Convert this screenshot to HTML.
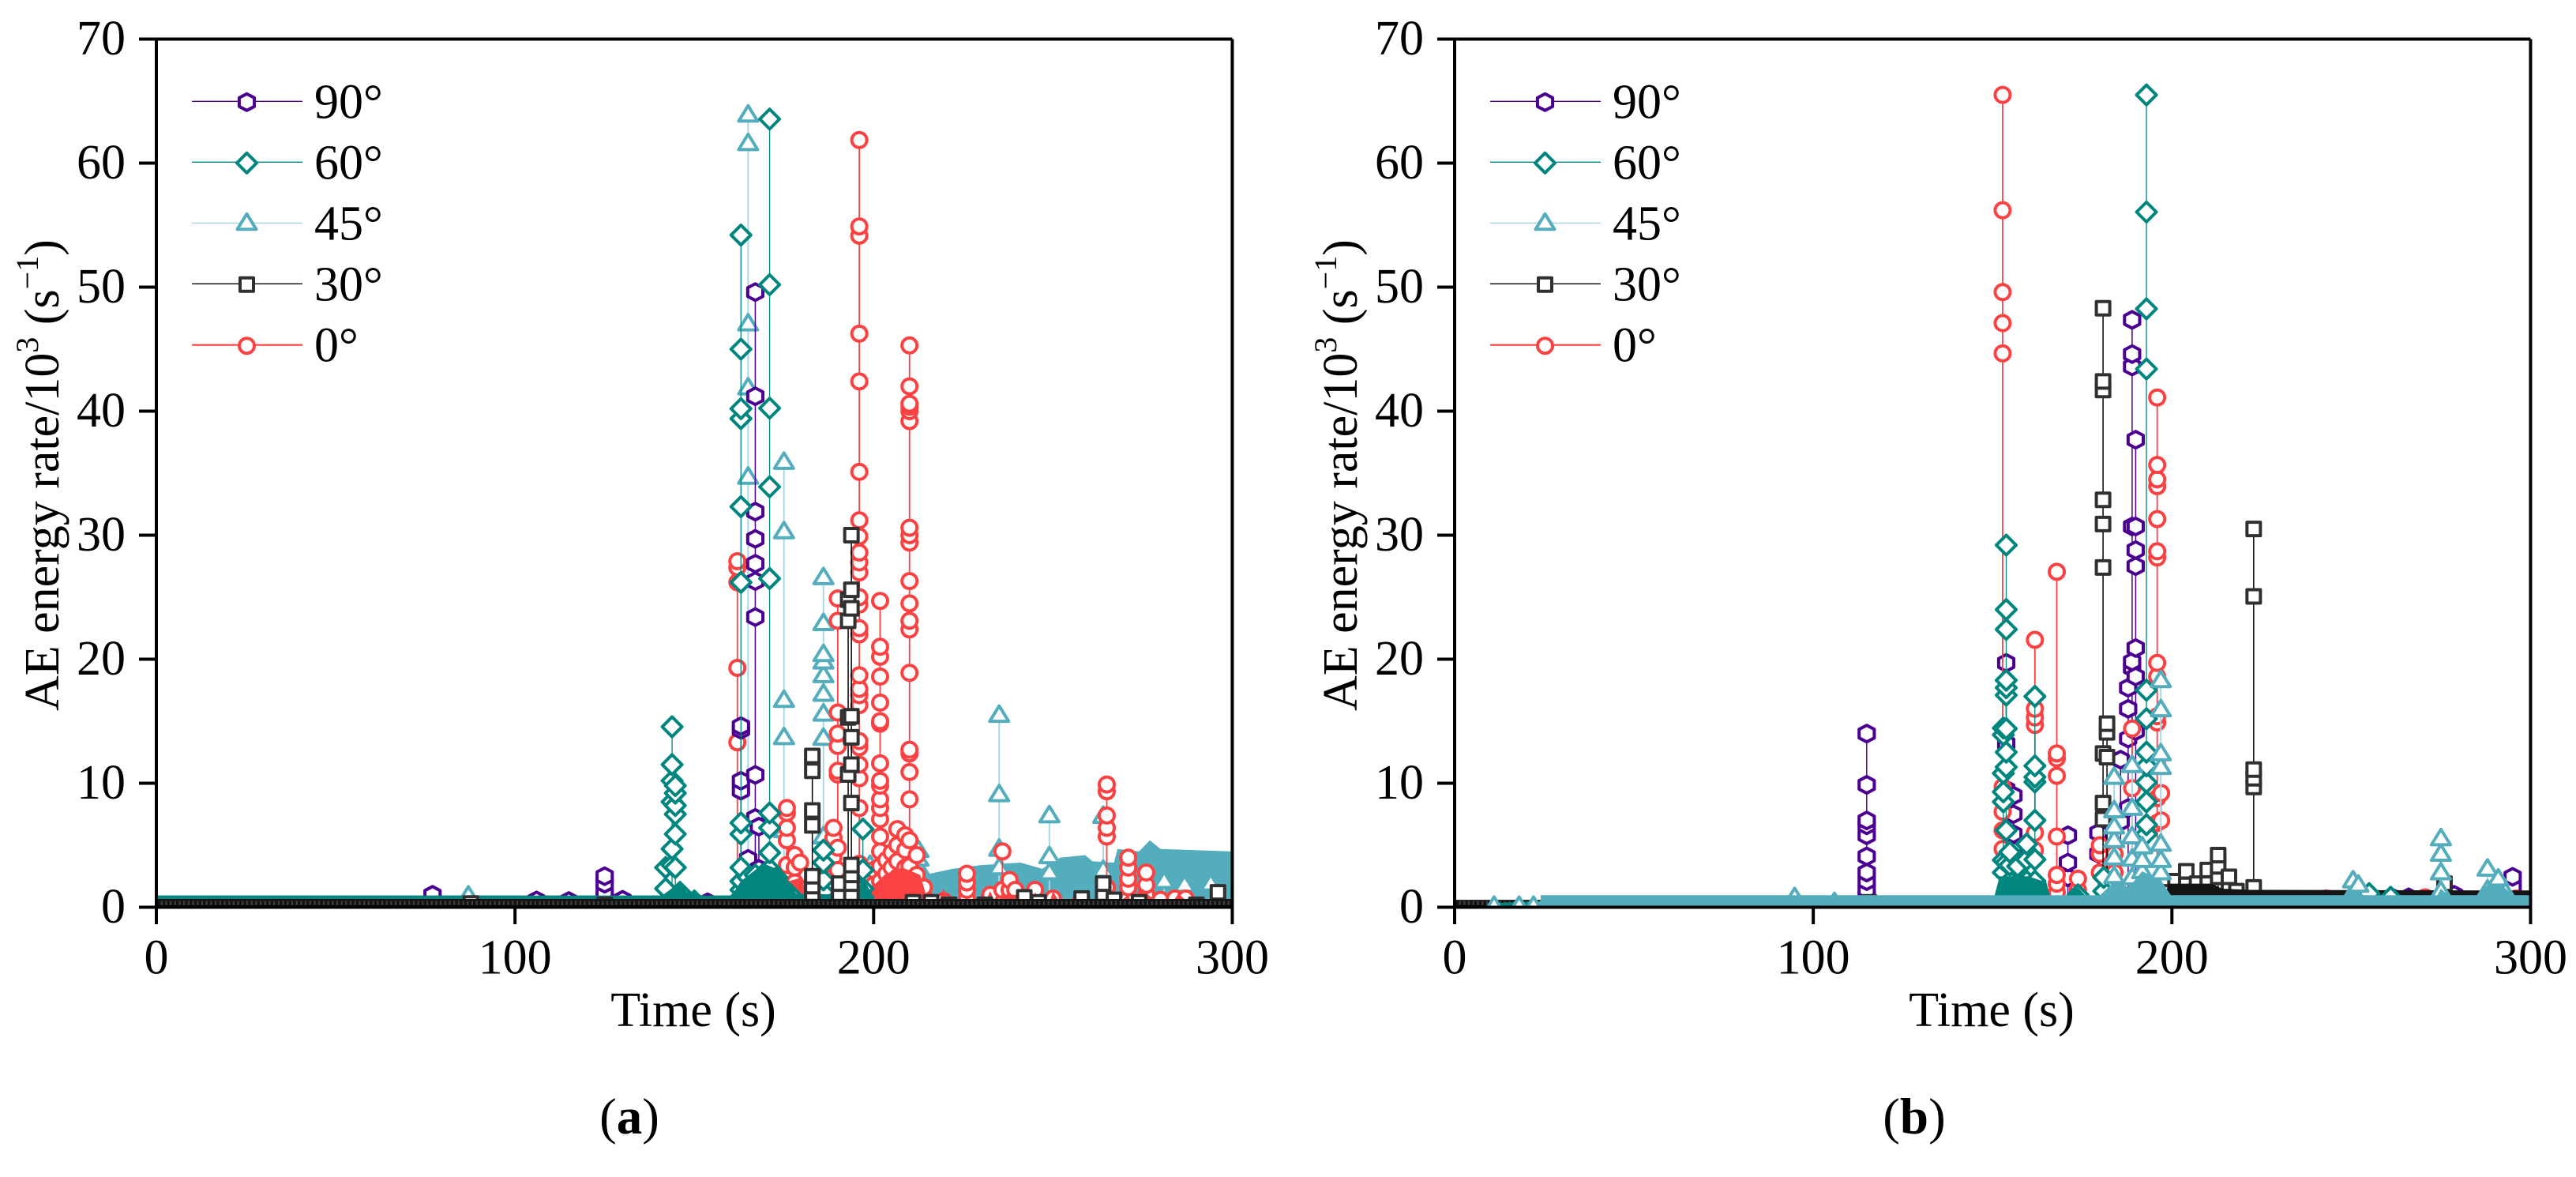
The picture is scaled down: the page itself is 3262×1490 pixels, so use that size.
<!DOCTYPE html>
<html lang="en">
<head>
<meta charset="utf-8">
<title>AE energy rate versus time, panels a and b</title>
<style>
html,body{margin:0;padding:0;background:#fff;}
svg{display:block;}
text{font-family:"Liberation Serif","Times New Roman",serif;fill:#000;}
</style>
</head>
<body>
<svg id="figure" xmlns="http://www.w3.org/2000/svg" width="3262" height="1490" viewBox="0 0 3262 1490"></svg>
<script>
/* ---------- shared tick labels ---------- */
const xTickValues = [0, 100, 200, 300];
const yTickValues = [0, 10, 20, 30, 40, 50, 60, 70];
const legendLabels = ['90°', '60°', '45°', '30°', '0°'];

/* ---------- panel (a): times and the values recorded at each time ---------- */
const a90Times = [77, 106, 115, 125, 130, 153.7, 163, 165, 167, 168];
const a90Values = [[1.0, 0.6], [0.55], [0.5], [2.5, 1.9, 1.1, 0.6], [0.6], [0.4], [14.6, 14.3, 10.2, 9.4], [3.9, 2.5], [49.6, 41.2, 31.9, 29.7, 27.7, 26.3, 23.4, 10.67, 7.2], [6.5, 3.1]];

const a60Times = [142, 143.8, 144.7, 146, 150, 163, 165, 167, 169, 171, 173, 176.5, 186, 197];
const a60Values = [[3.2, 1.5], [14.55, 11.5, 10.2, 8.5, 4.7, 3.4], [9.8, 9.2, 8.2, 7.5, 5.9, 3.2], [1.2, 0.8], [0.5], [54.2, 45, 40.2, 39.4, 32.3, 26.2, 6.8, 5.9, 3.2, 2.1, 1.4], [2.4, 1.5, 1], [2.6, 1.8, 1.1], [2.6, 1.5, 0.9], [63.55, 50.2, 40.24, 33.9, 26.5, 7.6, 6.4, 4.4, 3.1, 2, 1.2], [2.4, 1.3], [1.1, 0.7], [4.6, 3.6, 2.2, 1.2], [6.3, 3, 1.5, 0.8]];

const a45Times = [87, 165, 175, 186, 199, 212.5, 235, 249, 264, 281, 286.7, 294];
const a45Values = [[0.93], [63.9, 61.6, 47.06, 41.9, 34.7, 6.5, 3.5, 1.8], [35.9, 30.3, 16.7, 13.7, 6.2], [26.6, 22.9, 20.4, 19.8, 18.7, 17.2, 15.6, 13.65, 5.7], [3.4], [4.6, 3.9, 3.2], [15.5, 9.1, 4.7, 3.2], [7.4, 4.1, 2.8], [7.35, 3], [2.1], [1.8], [1.9]];

const a30Times = [87.7, 125, 182.9, 190.4, 192.9, 193.8, 211, 216, 221, 231, 242, 246, 258, 264, 267, 274, 290, 296];
const a30Values = [[0.3], [0.2], [12.2, 11, 7.8, 6.6, 2.5, 1.7, 1.1], [1.9, 1.1], [24.8, 23.1, 15.3, 10.7], [30, 25.6, 24.1, 15.4, 13.7, 11.5, 8.4, 3.4, 2.6, 1.9, 1.1], [0.4], [0.4], [0.2], [0.2], [0.8, 0.4], [0.4], [0.7, 0.3], [1.9, 1.1], [0.6], [0.4], [0.2], [1.2]];

const a0Times = [162, 175.8, 178, 179.5, 188.8, 190, 196, 198, 200, 201.8, 203.5, 205, 206.6, 208.8, 210, 212, 214, 219.5, 226, 232.5, 235.9, 237.9, 239.5, 245, 250, 257.7, 265, 268, 271, 276, 280, 284, 287];
const a0Values = [[27.9, 27.4, 26.2, 19.3, 13.3], [8, 7.6, 6.4, 5.4, 3.4, 2.3], [4.2, 3.2, 2], [3.6, 1.5], [6.4, 5.6, 4, 2.5], [24.9, 23.1, 15.7, 14, 13, 11, 10.7, 4.8, 3], [61.86, 54.9, 54.15, 46.25, 42.4, 35.1, 31.2, 29.9, 28.6, 27.8, 27, 25, 24.4, 22.5, 22, 18.7, 17.6, 17.1, 16.3, 13.4, 12.9, 11.5, 10.4, 8, 3.5], [2.4, 1.2, 0.6], [3, 1.8, 0.8], [24.7, 21, 20.2, 18.6, 16.5, 15, 14.8, 11.6, 10.2, 9.8, 8.7, 8, 7.1, 5.7, 4.5, 3.3, 2.1, 1.1], [3.8, 2.7, 1.6, 0.7], [4.4, 3.2, 1.9, 0.9], [6.3, 5, 3.7, 2.4, 1.2], [5.8, 4.6, 3.2, 2, 1], [45.3, 42, 40.6, 40.35, 40, 39.2, 30.6, 30, 29.4, 26.3, 24.5, 23.1, 22.4, 18.9, 12.7, 12.4, 10.9, 8.7, 5.4, 3.3, 1.9], [4.2, 2.6, 1.4], [1.6, 0.9], [0.5], [2.7, 2, 1.4, 0.7], [1], [4.5, 1.4], [2.2, 1.4, 0.7], [1.4, 0.8], [1.4, 0.7], [0.7], [0.4], [9.9, 9.35, 7.4, 6.4, 5.7, 1.6], [0.5], [4, 3.2, 2.3, 1.6, 0.7], [2.8, 1.8, 1], [0.6], [0.7], [0.7]];

/* density envelopes where markers merge into a solid band (top of the band) */
const a45BandTimes = [0, 160, 205, 212, 214, 222, 230, 241, 247, 252, 259, 261, 267, 268, 274, 277, 280, 300];
const a45BandTops = [0.95, 0.95, 1.2, 2.2, 2.6, 3.1, 3.4, 3.6, 3.1, 4, 4.2, 3.7, 3.6, 4.7, 4.5, 5.4, 4.7, 4.5];
const a60BandTimes = [0, 141, 146, 148, 150, 152, 160, 161, 163, 166.5, 169.5, 174.5, 178.4, 195, 197, 200];
const a60BandTops = [0.95, 0.95, 2, 1.2, 1.3, 0.95, 0.95, 1.2, 2.1, 2.9, 3.5, 2.9, 1.1, 1, 2.4, 0.8];
const a0BandTimes = [173, 175, 180, 182, 187, 189, 191, 193, 198, 203, 208, 213, 215, 218, 219.5, 221, 231, 232.5, 234, 237, 240, 242, 244, 245, 247, 249, 250, 252, 257, 258, 259, 268, 271, 272, 275, 279, 283, 285, 288, 300];
const a0BandTops = [0, 2, 2.4, 0.3, 0.3, 2, 2, 0.3, 1.2, 2.6, 3.2, 2.6, 0.6, 0.3, 1.5, 0.3, 0.3, 1.3, 0.3, 1, 1, 0.3, 0.3, 1.2, 0.3, 0.3, 1.3, 0.3, 0.3, 0.8, 0.3, 0.3, 1, 0.3, 1.5, 0.3, 0.3, 1.1, 0.3, 0.3];
const a30BandTimes = [0, 300];
const a30BandTops = [0.67, 0.67];

/* ---------- panel (b) ---------- */
const b90Times = [114.9, 153.8, 155.8, 171, 179.5, 185.7, 187.8, 188.9, 189.9, 243, 262, 266, 278.7, 295];
const b90Values = [[14, 9.87, 7, 6.6, 5.8, 4.1, 2.8, 2.1, 1.4, 0.9], [19.7, 13.2, 9.5, 6.1, 4], [9, 7.5, 5.9, 4.6], [5.8, 3.6, 2.4], [6, 4.3], [11.9, 6.9], [17.7, 16, 13.6, 8], [47.36, 44.6, 43.6, 30.7, 19.8, 19.3], [37.7, 30.7, 28.8, 27.5, 20.9, 18.6, 14.2], [0.6], [0.7], [0.8], [1], [2.45, 1.7, 1.1]];

const b60Times = [153, 153.8, 154.8, 157, 159.5, 161.8, 173.8, 181, 192.9, 255, 261];
const b60Values = [[14.45, 13.9, 10.8, 9.3, 8.5, 3.8, 2.8], [29.2, 24, 22.4, 18.3, 17.7, 17.1, 14.4, 12.5, 11.3, 6.2, 3.6], [4.45, 3.4, 2.1, 1.2], [3.3, 1.5], [5.1, 3.85, 2.1], [17, 11.4, 10.5, 10.1, 7, 3.85, 2.1, 1.1], [1], [2.4, 1.3], [65.5, 56.06, 48.25, 43.4, 17.5, 15.2, 12.5, 11.4, 10.06, 8.5, 6.65, 5.9], [1.1], [0.8]];

const b45Times = [11, 18, 22, 25, 94.8, 105.9, 183.9, 188.9, 191.7, 196.9, 250.5, 252, 275, 288, 291, 293];
const b45Values = [[0.1], [0.1], [0.1], [0.1], [0.8], [0.4], [10.5, 7.8, 6.5, 5.4, 4, 2.5, 1.3], [11.45, 8, 5.7, 3.9, 2.4, 1.2], [4.9, 3.8, 2.9, 1.9, 1], [18.3, 15.95, 12.4, 11.3, 5.1, 3.8, 2.8, 1.2], [2.15, 1.2], [1.8], [5.55, 4.3, 2.8, 1.3], [3.1, 1.4], [2.3, 1], [1.2]];

const b30Times = [115.5, 180.8, 181.9, 198, 201, 204, 207, 210, 212.9, 215.9, 218, 222.8, 276];
const b30Values = [[0.4], [48.3, 42.4, 41.7, 32.85, 30.9, 27.4, 12.4, 8.4, 7.1], [14.8, 14.1, 12.1], [1.2], [2.1, 1.3], [2.9, 1.8], [1.9, 1.1], [3, 1.9], [4.2, 3.3, 2.45], [2.45, 1.8], [1.3], [30.5, 25.06, 11.1, 10.4, 9.7, 1.6], [1.9]];

const b0Times = [152.8, 161.8, 167.9, 173.8, 179.9, 184, 188.9, 195.9, 197, 243, 270.6, 296];
const b0Values = [[65.5, 56.2, 49.6, 47.1, 44.66, 9.7, 7.7, 6.2, 4.7], [21.56, 16, 15.3, 14.7, 6, 4.6], [27.05, 12.4, 12, 10.6, 5.7, 2.6, 1.9, 1.2], [2.3, 1.4], [5, 4.3, 2.8], [4.3, 2.8], [14.4, 9.6], [41.1, 35.66, 34.5, 33.95, 31.3, 28.7, 28.2, 19.7, 18.6, 15.4, 14.9, 11.5, 8.8, 6.8], [9.2, 7], [0.7], [0.8], [0.7]];

const b45BandTimes = [24, 180, 184, 188, 191.7, 196.9, 199.7, 248, 250.5, 253, 274, 275, 277, 285, 288, 292, 295, 300];
const b45BandTops = [0.97, 0.97, 2.1, 1.6, 2.9, 2.2, 0.97, 0.97, 1.3, 0.97, 0.97, 1.5, 0.97, 0.97, 1.8, 1.8, 0.97, 0.97];
const b60BandTimes = [12, 24, 25, 150.5, 152, 160, 165, 166, 171, 173.8, 176];
const b60BandTops = [0.35, 0.5, 0.5, 0.9, 2.5, 2.5, 2, 0.9, 0.9, 1.6, 0.9];
const b30BandTimes = [0, 25, 26, 190, 198, 199, 211, 214, 222, 226, 300];
const b30BandTops = [0.6, 0.6, 0.6, 0.6, 0.7, 1.9, 1.9, 1.5, 1.4, 1.4, 1.35];

/* ---------- axis functions ---------- */
const Y_ZERO = 1148.5, Y_PER_UNIT = 15.7, X_PER_UNIT = 4.5415;
function yAxis(v) { return Y_ZERO - v * Y_PER_UNIT; }
function xAxis(left, t) { return left + t * X_PER_UNIT; }

const NS = 'http://www.w3.org/2000/svg';
const root = document.getElementById('figure');
function mk(tag, parent, attrs, txt) {
  const node = document.createElementNS(NS, tag);
  for (const k in attrs) node.setAttribute(k, attrs[k]);
  if (txt !== undefined) node.textContent = txt;
  parent.appendChild(node);
  return node;
}

const style90 = { key: '90', color: '#4b0092', stem: '#4b0092', stemW: 1.5, shape: 'hex' };
const style60 = { key: '60', color: '#00857f', stem: '#00857f', stemW: 1.3, shape: 'diamond' };
const style45 = { key: '45', color: '#53adbd', stem: '#a9d8e4', stemW: 2, shape: 'triangle' };
const style30 = { key: '30', color: '#303030', stem: '#000000', stemW: 1.5, shape: 'square' };
const style0 = { key: '0', color: '#fb4141', stem: '#fb4141', stemW: 1.8, shape: 'circle' };

function drawMarker(g, shape, cx, cy, color) {
  const base = { fill: '#fff', stroke: color, 'stroke-width': 4, 'stroke-linejoin': 'round' };
  let el;
  if (shape === 'circle') {
    el = mk('circle', g, Object.assign({ cx: cx, cy: cy, r: 9.5 }, base));
  } else if (shape === 'square') {
    el = mk('rect', g, Object.assign({ x: cx - 8.5, y: cy - 8.5, width: 17, height: 17 }, base));
  } else {
    let pts;
    if (shape === 'hex') pts = [[0, -10.5], [9.6, -5.5], [9.6, 5.5], [0, 10.5], [-9.6, 5.5], [-9.6, -5.5]];
    if (shape === 'diamond') pts = [[0, -12.5], [12.5, 0], [0, 12.5], [-12.5, 0]];
    if (shape === 'triangle') pts = [[0, -11.5], [12, 8], [-12, 8]];
    el = mk('polygon', g, Object.assign({ points: pts.map(p => (cx + p[0]) + ',' + (cy + p[1])).join(' ') }, base));
  }
  return el;
}

function drawBand(g, left, times, tops, color, name) {
  const pts = times.map((t, i) => xAxis(left, t) + ',' + yAxis(tops[i]));
  pts.push(xAxis(left, times[times.length - 1]) + ',' + yAxis(0));
  pts.push(xAxis(left, times[0]) + ',' + yAxis(0));
  const el = mk('polygon', g, { points: pts.join(' '), fill: color, stroke: 'none' });
  
  
}

function drawSeries(g, left, times, values, st) {
  const layer = mk('g', g, {});
  
  
  times.forEach((t, i) => {
    const stem = mk('line', layer, { x1: xAxis(left, t), x2: xAxis(left, t), y1: yAxis(Math.max.apply(null, values[i])), y2: yAxis(0), stroke: st.stem, 'stroke-width': st.stemW });
    
    
  });
  times.forEach((t, i) => {
    values[i].slice().sort((a, b) => a - b).forEach(v => {
      const m = drawMarker(layer, st.shape, xAxis(left, t), yAxis(v), st.color);
      
      
    });
  });
}

function drawAxes(left, id, captionText, captionX) {
  const g = mk('g', root, {});
  
  
  const right = xAxis(left, 300);
  const box = mk('path', g, { d: 'M' + (left - 22) + ' ' + yAxis(70) + 'H' + right + 'M' + left + ' ' + yAxis(70) + 'V' + yAxis(0) + 'M' + (left - 22) + ' ' + yAxis(0) + 'H' + right + 'M' + right + ' ' + yAxis(70) + 'V' + yAxis(0), stroke: '#000', 'stroke-width': 4, fill: 'none' });
  
  
  xTickValues.forEach(t => {
    const tick = mk('line', g, { x1: xAxis(left, t), x2: xAxis(left, t), y1: yAxis(0), y2: 1170, stroke: '#000', 'stroke-width': 4 });
    
    
    const lab = mk('text', g, { x: xAxis(left, t), y: 1232.5, 'font-size': 62, 'text-anchor': 'middle' }, String(t));
    
    
  });
  yTickValues.forEach(v => {
    const tick = mk('line', g, { x1: left - 22, x2: left, y1: yAxis(v), y2: yAxis(v), stroke: '#000', 'stroke-width': 4 });
    
    
    const lab = mk('text', g, { x: left - 39, y: yAxis(v) + 19.5, 'font-size': 62, 'text-anchor': 'end' }, String(v));
    
    
  });
  const xt = mk('text', g, { x: left + 680, y: 1299, 'font-size': 62, 'text-anchor': 'middle' }, 'Time (s)');
  
  

  const yt = mk('text', g, { transform: 'translate(' + (left - 124) + ',900) rotate(-90)', 'font-size': 62 });
  
  
  mk('tspan', yt, {}, 'AE energy rate/10');
  mk('tspan', yt, { 'font-size': 40, dy: -26 }, '3');
  mk('tspan', yt, { dy: 26, 'xml:space': 'preserve' }, '\u00A0(s');
  mk('tspan', yt, { 'font-size': 40, dy: -26 }, '\u22121');
  mk('tspan', yt, { dy: 26 }, ')');

  const cap = mk('text', g, { x: captionX, y: 1435, 'font-size': 65, 'text-anchor': 'middle' });
  
  
  mk('tspan', cap, {}, '(');
  mk('tspan', cap, { 'font-weight': 'bold' }, captionText);
  mk('tspan', cap, {}, ')');
}

function drawLegend(left, id) {
  const g = mk('g', root, {});
  
  
  const styles = [style90, style60, style45, style30, style0];
  const rows = [128.3, 205.3, 282.3, 359.3, 436.7];
  styles.forEach((st, i) => {
    const row = mk('g', g, {});
    
    
    const sw = mk('line', row, { x1: left + 45, x2: left + 185, y1: rows[i], y2: rows[i], stroke: st.stem, 'stroke-width': st.key === '0' ? 2.2 : 1.4 });
    
    
    const mkr = drawMarker(row, st.shape, left + 114.5, rows[i] + (st.shape === 'triangle' ? 0 : 1), st.color);
    
    
    const lab = mk('text', row, { x: left + 200, y: rows[i] + 21, 'font-size': 62 }, legendLabels[i]);
    
    
  });
}

function clipFor(left, id) {
  const defs = mk('defs', root, {});
  const cp = mk('clipPath', defs, { id: 'clip-' + id });
  mk('rect', cp, { x: left, y: yAxis(70), width: 300 * X_PER_UNIT, height: 70 * Y_PER_UNIT });
  const g = mk('g', root, { 'clip-path': 'url(#clip-' + id + ')' });
  
  
  return g;
}

function drawBlackRow(g, left, times, name) {
  const row = mk('line', g, { x1: xAxis(left, times[0]), x2: xAxis(left, times[times.length - 1]), y1: yAxis(0.34), y2: yAxis(0.34), stroke: '#444', 'stroke-width': 5, 'stroke-dasharray': '2 3.7' });
  
  
}

/* panel (a) */
const LEFT_A = 198;
const plotA = clipFor(LEFT_A, 'a');
drawBand(plotA, LEFT_A, a45BandTimes, a45BandTops, '#53adbd', 'band-45');
drawSeries(plotA, LEFT_A, a45Times, a45Values, style45);
drawSeries(plotA, LEFT_A, a0Times, a0Values, style0);
drawBand(plotA, LEFT_A, a0BandTimes, a0BandTops, '#fb4141', 'band-0');
drawSeries(plotA, LEFT_A, a90Times, a90Values, style90);
drawSeries(plotA, LEFT_A, a60Times, a60Values, style60);
drawBand(plotA, LEFT_A, a60BandTimes, a60BandTops, '#00857f', 'band-60');
drawSeries(plotA, LEFT_A, a30Times, a30Values, style30);
drawBand(plotA, LEFT_A, a30BandTimes, a30BandTops, '#141414', 'band-30');
drawBlackRow(plotA, LEFT_A, a30BandTimes, 'band-30-texture');
drawAxes(LEFT_A, 'a', 'a', 797);
drawLegend(LEFT_A, 'a');

/* panel (b) */
const LEFT_B = 1842;
const plotB = clipFor(LEFT_B, 'b');
drawSeries(plotB, LEFT_B, b90Times, b90Values, style90);
drawSeries(plotB, LEFT_B, b0Times, b0Values, style0);
drawSeries(plotB, LEFT_B, b30Times, b30Values, style30);
drawBand(plotB, LEFT_B, b30BandTimes, b30BandTops, '#141414', 'band-30');
drawBlackRow(plotB, LEFT_B, b30BandTimes, 'band-30-texture');
drawSeries(plotB, LEFT_B, b60Times, b60Values, style60);
drawBand(plotB, LEFT_B, b60BandTimes, b60BandTops, '#00857f', 'band-60');
drawSeries(plotB, LEFT_B, b45Times, b45Values, style45);
drawBand(plotB, LEFT_B, b45BandTimes, b45BandTops, '#53adbd', 'band-45');
drawAxes(LEFT_B, 'b', 'b', 2424);
drawLegend(LEFT_B, 'b');
</script>
</body>
</html>
